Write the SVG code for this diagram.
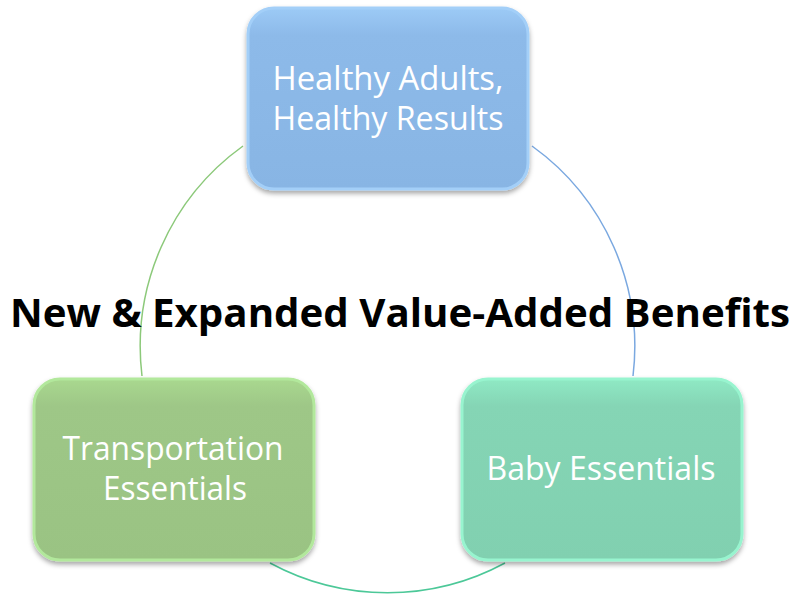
<svg xmlns="http://www.w3.org/2000/svg" width="796" height="595" viewBox="0 0 796 595">
<style>
.node-text{font-family:"Open Sans","Liberation Sans",sans-serif;font-size:32px;fill:#ffffff;text-anchor:middle}
.title{font-family:"Open Sans","Liberation Sans",sans-serif;font-weight:bold;font-size:39px;fill:#000000;text-anchor:middle}
.arc{fill:none;stroke-width:1.5}
</style>
<defs>
<filter id="shadow" x="-10%" y="-10%" width="120%" height="125%">
<feDropShadow dx="0" dy="3" stdDeviation="2.5" flood-color="#000" flood-opacity="0.35"/>
</filter>
<linearGradient id="gBlue" x1="0" y1="0" x2="0" y2="1">
<stop offset="0" stop-color="#9CCAF6"/><stop offset="0.15" stop-color="#8DBAE9"/><stop offset="1" stop-color="#88B5E4"/>
</linearGradient>
<linearGradient id="gGreen" x1="0" y1="0" x2="0" y2="1">
<stop offset="0" stop-color="#A9D88F"/><stop offset="0.15" stop-color="#9EC787"/><stop offset="1" stop-color="#9AC383"/>
</linearGradient>
<linearGradient id="gTeal" x1="0" y1="0" x2="0" y2="1">
<stop offset="0" stop-color="#8FE9C4"/><stop offset="0.15" stop-color="#85D5B5"/><stop offset="1" stop-color="#81D0B0"/>
</linearGradient>
</defs>
<rect width="796" height="595" fill="#ffffff"/>
<g id="connectors">
<path class="arc" stroke="#8CC97A" d="M243,146 A247,247 0 0 0 142,376"/>
<path class="arc" stroke="#7AA8E0" d="M532,146 A247,247 0 0 1 633,376"/>
<path class="arc" stroke="#4CC898" d="M505,563 A247,247 0 0 1 270,563"/>
</g>
<text class="title" x="400" y="327" textLength="780" lengthAdjust="spacingAndGlyphs">New &amp; Expanded Value-Added Benefits</text>
<g id="node-healthy">
<rect x="248" y="8" width="280" height="181" rx="26" fill="url(#gBlue)" stroke="#A3CFF8" stroke-width="3" filter="url(#shadow)"/>
<text class="node-text" x="388" y="90" textLength="231" lengthAdjust="spacingAndGlyphs">Healthy Adults,</text>
<text class="node-text" x="388" y="130" textLength="231" lengthAdjust="spacingAndGlyphs">Healthy Results</text>
</g>
<g id="node-transport">
<rect x="34" y="379" width="280" height="181" rx="26" fill="url(#gGreen)" stroke="#B2E89C" stroke-width="3" filter="url(#shadow)"/>
<text class="node-text" x="173" y="460" textLength="221" lengthAdjust="spacingAndGlyphs">Transportation</text>
<text class="node-text" x="175" y="500" textLength="144" lengthAdjust="spacingAndGlyphs">Essentials</text>
</g>
<g id="node-baby">
<rect x="462" y="379" width="280" height="181" rx="26" fill="url(#gTeal)" stroke="#98F4CF" stroke-width="3" filter="url(#shadow)"/>
<text class="node-text" x="601" y="480" textLength="229" lengthAdjust="spacingAndGlyphs">Baby Essentials</text>
</g>
</svg>
